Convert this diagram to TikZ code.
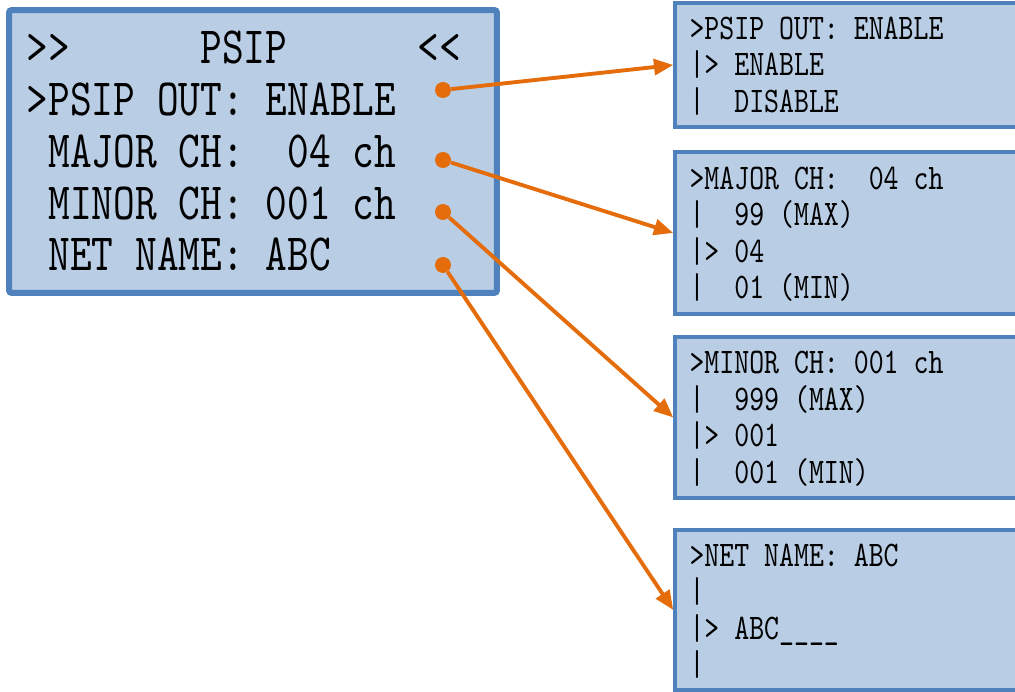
\documentclass[tikz,border=0pt]{standalone}
\usepackage{fontspec}
\usepackage{tikz}
\usetikzlibrary{arrows.meta}
\newfontfamily\lcdfont{lmmono10-regular.otf}[FakeStretch=0.79, WordSpace={1,0,0}]
\newcommand{\lcdcell}{\spaceskip=\fontcharwd\font`0\relax\xspaceskip=\spaceskip}
\definecolor{lcdfill}{RGB}{185, 205, 229}
\definecolor{lcdedge}{RGB}{79, 129, 189}
\definecolor{pointer}{RGB}{228, 108, 10}
\tikzset{>=latex}

\begin{document}
\begin{tikzpicture}[
    x = 0.02cm, y = -0.02cm,
    lcd/.style = {draw = lcdedge, fill = lcdfill, align = left, execute at begin node = \lcdcell},
    screen/.style = {lcd, line width = 3.4pt, rounded corners = 1.5pt, inner xsep = 0.354cm, text width = 9.05cm, minimum width = 9.76cm, minimum height = 5.66cm, text height = 18.2pt, text depth = 117.8pt, font = \lcdfont\fontsize{29.8pt}{29.45pt}\selectfont},
    menu/.style = {lcd, line width = 2pt, inner xsep = 0.29cm, text width = 6.82cm, minimum width = 7.4cm, text height = 12.5pt, font = \lcdfont\fontsize{20.5pt}{20.8pt}\selectfont},
    dot/.style = {circle, fill = pointer, inner sep = 0pt, minimum size = 0.32cm},
    link/.style = {draw = pointer, line width = 2.2pt, -{Triangle[length = 11pt, width = 9pt]}},
]
\useasboundingbox (0,0) rectangle (1015,692);
\clip (0,0) rectangle (1015,692);

\node[screen] (psip) at (253, 151.5) {>>~~~~~~PSIP~~~~~~<<\\>PSIP OUT: ENABLE\\~MAJOR CH:~~04 ch\\~MINOR CH: 001 ch\\~NET NAME: ABC};

\node[menu, minimum height = 2.48cm, text depth = 41.6pt] (pout) at (860, 65) {>PSIP OUT: ENABLE\\|> ENABLE\\|~~DISABLE};
\node[menu, minimum height = 3.24cm, text depth = 62.4pt] (major) at (860, 233) {>MAJOR CH:~~04 ch\\|~~99 (MAX)\\|> 04\\|~~01 (MIN)};
\node[menu, minimum height = 3.22cm, text depth = 62.4pt] (minor) at (860, 417.5) {>MINOR CH: 001 ch\\|~~999 (MAX)\\|> 001\\|~~001 (MIN)};
\node[menu, minimum height = 3.2cm, text depth = 62.4pt] (name) at (860, 610) {>NET NAME: ABC\\|\\|> ABC\_\_\_\_\\|};

\node[dot] (p1) at (443, 90) {};
\node[dot] (p2) at (443, 160) {};
\node[dot] (p3) at (443, 212) {};
\node[dot] (p4) at (443, 265) {};

\draw[link] (p1) -- (pout.west);
\draw[link] (p2) -- (major.west);
\draw[link] (p3) -- (minor.west);
\draw[link] (p4) -- (name.west);
\end{tikzpicture}
\end{document}
